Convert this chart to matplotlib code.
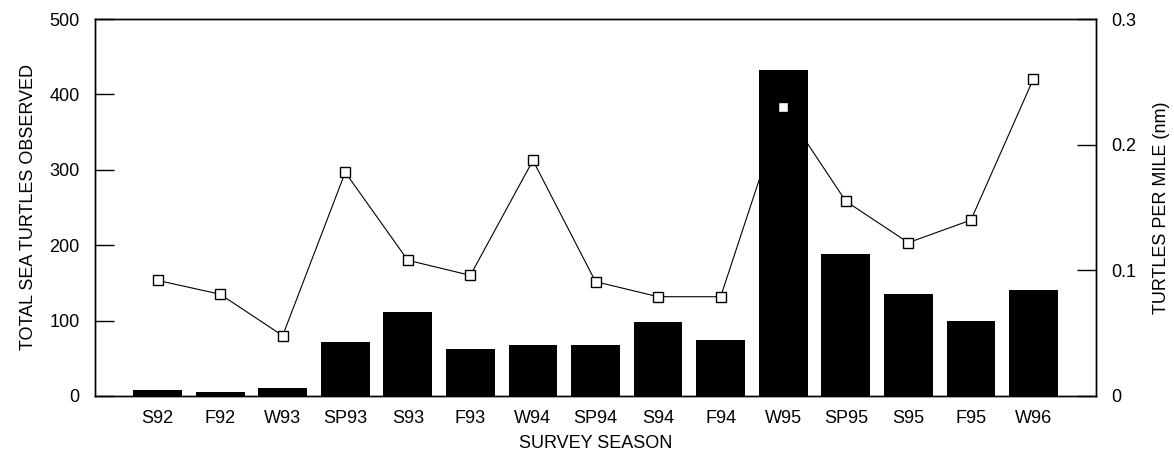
import numpy as np
import matplotlib
matplotlib.use("Agg")
import matplotlib.pyplot as plt

plt.rcParams['font.family'] = ['Liberation Sans', 'DejaVu Sans']

# survey seasons and values
seasons = ["S92", "F92", "W93", "SP93", "S93", "F93", "W94", "SP94",
           "S94", "F94", "W95", "SP95", "S95", "F95", "W96"]
total_observed = [8, 5, 11, 71, 112, 62, 68, 67, 98, 74, 433, 188, 135, 99, 140]
turtles_per_mile = [0.092, 0.081, 0.048, 0.178, 0.108, 0.096, 0.1875, 0.091,
                    0.079, 0.079, 0.230, 0.155, 0.122, 0.140, 0.2525]

x = np.arange(len(seasons))
fs = 13

fig = plt.figure(figsize=(11.74, 4.58), dpi=100)
ax = fig.add_axes([0.0809, 0.1354, 0.8527, 0.8231])
ax2 = ax.twinx()

# line goes behind the bars, markers sit on top
ax.set_zorder(2)
ax.patch.set_visible(False)
ax2.set_zorder(1)

ax.bar(x, total_observed, width=0.78, color="black", zorder=2)
ax2.plot(x, turtles_per_mile, color="black", linewidth=0.8, zorder=1)
ax.plot(x, turtles_per_mile, transform=ax2.transData, linestyle="none",
        marker="s", markersize=7, markerfacecolor="white",
        markeredgecolor="black", markeredgewidth=1.0, zorder=3)

ax.set_xlim(-1, len(seasons))
ax.set_ylim(0, 500)
ax2.set_ylim(0, 0.3)

ax.set_xticks(x)
ax.set_xticklabels(seasons)
ax.set_yticks([0, 100, 200, 300, 400, 500])
ax2.set_yticks([0, 0.1, 0.2, 0.3])
ax2.set_yticklabels(["0", "0.1", "0.2", "0.3"])

ax.tick_params(axis="x", length=0, pad=10, labelsize=fs)
ax.tick_params(axis="y", direction="in", length=14, width=1, pad=11, labelsize=fs)
ax2.tick_params(axis="y", direction="in", length=14, width=1, pad=11, labelsize=fs)

for a in (ax, ax2):
    for s in a.spines.values():
        s.set_linewidth(1.0)
        s.set_color("black")

ax.set_xlabel("SURVEY SEASON", fontsize=fs, labelpad=6)
ax.set_ylabel("TOTAL SEA TURTLES OBSERVED", fontsize=fs, labelpad=9)
ax2.set_ylabel("TURTLES PER MILE (nm)", fontsize=fs, labelpad=12)

fig.savefig("out.png", dpi=100)
